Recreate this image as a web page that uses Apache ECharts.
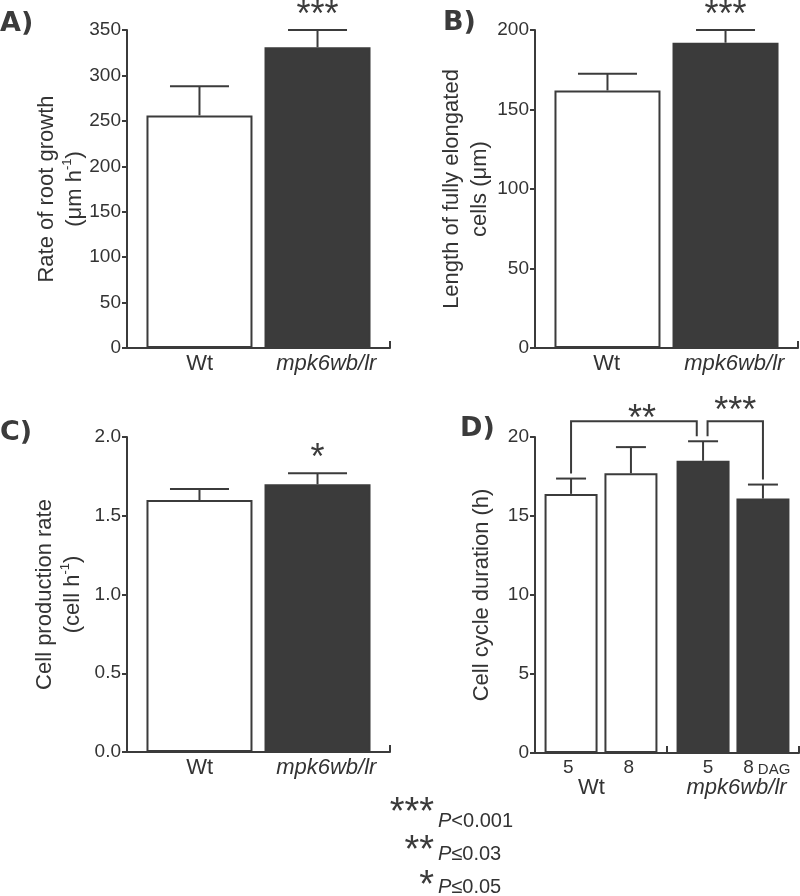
<!DOCTYPE html>
<html><head><meta charset="utf-8">
<script src="https://cdn.jsdelivr.net/npm/echarts@6/dist/echarts.min.js"></script>
<style>html,body{margin:0;padding:0;background:#fff}#c{width:800px;height:896px}</style>
</head><body><div id="c"></div>
<script>
// ---------------- data ----------------
const genotypes = ['Wt', 'mpk6wb/lr'];
// A) rate of root growth (µm h-1)
const rootGrowth = [256, 331];
const rootGrowthSE = [32, 19];
const rootGrowthSig = ['', '***'];
const rootGrowthTicks = [0, 350, 50];
// B) length of fully elongated cells (µm)
const cellLength = [162, 192];
const cellLengthSE = [10.5, 8];
const cellLengthSig = ['', '***'];
const cellLengthTicks = [0, 200, 50];
// C) cell production rate (cell h-1)
const prodRate = [1.60, 1.70];
const prodRateSE = [0.07, 0.07];
const prodRateSig = ['', '*'];
const prodRateTicks = [0, 2, 0.5];
// D) cell cycle duration (h), by days after germination
const dagLabels = ['5', '8'];
const cycleDAG5 = [16.4, 18.5];
const cycleDAG5SE = [0.97, 1.23];
const cycleDAG8 = [17.7, 16.1];
const cycleDAG8SE = [1.66, 0.89];
const cycleTicks = [0, 20, 5];
// brackets in D: [genotypeIndex, dagIndex] pairs
const bracketFrom = [[0, 0], [1, 0]];
const bracketTo = [[1, 0], [1, 1]];
const bracketLevel = [21, 21];
const bracketSig = ['**', '***'];
// significance key
const sigKeyStars = ['***', '**', '*'];
const sigKeyText = ['<0.001', '≤0.03', '≤0.05'];

// ---------------- style ----------------
const INK = '#3b3b3b';
const TXT = '#333333';
const FONT = 'Liberation Sans, Arial, Helvetica, sans-serif';
const BW = 106, BG = -1.127;           // panels A-C bar width / gap
const SHIFT = -(BW * (1 + BG)) / 2;    // px offset of each bar from band centre
const DBW = 53, DBG = 0.13;            // panel D
const DSHIFT = (DBW * (1 + DBG)) / 2;

const grids = [
  {left: 127, top: 30, width: 263, height: 318},
  {left: 535, top: 30, width: 263, height: 318},
  {left: 127, top: 437, width: 263, height: 315},
  {left: 535, top: 437, width: 264, height: 316}
].map(g => Object.assign({outerBoundsMode: 'none', containLabel: false}, g));

function yAxis(gi, ticks, name, gap, dec) {
  return {
    type: 'value', gridIndex: gi, min: ticks[0], max: ticks[1], interval: ticks[2],
    axisLine: {show: true, lineStyle: {color: INK, width: 2}},
    axisTick: {show: true, inside: false, length: 5, lineStyle: {color: INK, width: 2}},
    splitLine: {show: false},
    axisLabel: {color: TXT, fontSize: 19, fontFamily: FONT, margin: 6,
      formatter: v => dec ? v.toFixed(1) : String(v)},
    name: name, nameLocation: 'middle', nameGap: gap, nameRotate: 90, nameMoveOverlap: false,
    nameTextStyle: {color: TXT, fontSize: 22, fontFamily: FONT, lineHeight: 28,
      rich: {sup: {fontSize: 13, verticalAlign: 'top', lineHeight: 14, color: TXT, fontFamily: FONT}}}
  };
}
function xAxisAB(gi, wtPad) {
  return {
    type: 'category', gridIndex: gi, data: genotypes,
    axisLine: {show: true, lineStyle: {color: INK, width: 2}},
    axisTick: {show: true, inside: true, length: 7, interval: (i) => i === 0, lineStyle: {color: INK, width: 2}},
    axisLabel: {color: TXT, fontSize: 22, fontFamily: FONT, margin: 5, interval: 0,
      formatter: (v, i) => i === 0 ? '{w|' + v + '}' : '{m|' + v + '}',
      rich: {w: {fontSize: 22, padding: [0, 0, 0, wtPad]}, m: {fontSize: 22, fontStyle: 'italic', padding: [0, 0, 0, 4]}}}
  };
}
function barPair(gi, vals) {
  return [
    {type: 'bar', xAxisIndex: gi, yAxisIndex: gi, barWidth: BW, barGap: (BG * 100) + '%',
     data: vals.map((v, i) => i === 0 ? v : '-'),
     itemStyle: {color: '#ffffff', borderColor: INK, borderWidth: 2}},
    {type: 'bar', xAxisIndex: gi, yAxisIndex: gi, barWidth: BW, barGap: (BG * 100) + '%',
     data: vals.map((v, i) => i === 1 ? v : '-'),
     itemStyle: {color: INK, borderColor: INK, borderWidth: 2}}
  ];
}
function starText(x, y, s, size) {
  return {type: 'text', x: x, y: y,
    style: {text: s, fill: INK, fontSize: size, fontFamily: FONT, align: 'center', verticalAlign: 'middle'}};
}
function errSeries(gi, vals, ses, sigs, cap, shiftFn) {
  return {
    type: 'custom', xAxisIndex: gi, yAxisIndex: gi, clip: false, z: 5,
    data: vals.map((v, i) => [i, v, ses[i]]),
    encode: {x: 0, y: 1},
    renderItem: (params, api) => {
      const i = api.value(0), v = api.value(1), e = api.value(2);
      const base = api.coord([i, v]);
      const top = api.coord([i, v + e]);
      const x = base[0] + shiftFn(i);
      const ch = [
        {type: 'line', shape: {x1: x, y1: base[1], x2: x, y2: top[1]}, style: {stroke: INK, lineWidth: 2}},
        {type: 'line', shape: {x1: x - cap / 2, y1: top[1], x2: x + cap / 2, y2: top[1]}, style: {stroke: INK, lineWidth: 2}}
      ];
      if (sigs[i]) ch.push(starText(x, top[1] - 14, sigs[i], 36));
      return {type: 'group', children: ch};
    }
  };
}
const shiftAB = i => (i === 0 ? SHIFT : -SHIFT);

// ---------- panel D ----------
const dGroups = [cycleDAG5, cycleDAG8];
const dSE = [cycleDAG5SE, cycleDAG8SE];
function dBar(k) {
  return {type: 'bar', xAxisIndex: 3, yAxisIndex: 3, barWidth: DBW, barGap: (DBG * 100) + '%',
    name: dagLabels[k] + ' DAG',
    data: dGroups[k].map((v, i) => ({value: v,
      itemStyle: i === 0 ? {color: '#ffffff', borderColor: INK, borderWidth: 2}
                         : {color: INK, borderColor: INK, borderWidth: 2}}))};
}
function dErr(k) {
  return errSeries(3, dGroups[k], dSE[k], ['', ''], 30, () => (k === 0 ? -DSHIFT : DSHIFT));
}
const legNudge = 4.5;
const bracketSeries = {
  type: 'custom', xAxisIndex: 3, yAxisIndex: 3, clip: false, z: 6,
  data: bracketLevel.map((lv, b) => [b, lv]),
  encode: {x: 0, y: 1},
  renderItem: (params, api) => {
    const b = params.dataIndex;
    const lv = bracketLevel[b];
    const ends = [bracketFrom[b], bracketTo[b]];
    const pts = ends.map((e, side) => {
      const [g, k] = e;
      const val = dGroups[k][g] + dSE[k][g];
      const p = api.coord([g, val]);
      let x = p[0] + (k === 0 ? -DSHIFT : DSHIFT);
      // if this bar is also an end of another bracket, move this leg aside
      const shared = bracketFrom.concat(bracketTo).filter(q => q[0] === g && q[1] === k).length > 1;
      if (shared) x += side === 0 ? legNudge : -legNudge * 1.4;
      return [x, p[1] - 5];
    });
    const yl = api.coord([0, lv])[1];
    const ch = [{type: 'polyline', shape: {points: [[pts[0][0], pts[0][1]], [pts[0][0], yl], [pts[1][0], yl], [pts[1][0], pts[1][1]]]},
      style: {stroke: INK, lineWidth: 2, fill: null}}];
    const lift = bracketSig[b].length === 3 ? 9 : 1;
    ch.push(starText((pts[0][0] + pts[1][0]) / 2 + (b === 0 ? 8 : 0), yl - lift, bracketSig[b], 36));
    return {type: 'group', children: ch};
  }
};
const xAxisD = {
  type: 'category', gridIndex: 3, data: genotypes,
  axisLine: {show: true, lineStyle: {color: INK, width: 2}},
  axisTick: {show: true, inside: true, length: 7, interval: 0, lineStyle: {color: INK, width: 2}},
  axisLabel: {color: TXT, fontSize: 19, fontFamily: FONT, margin: 4.5, interval: 0,
    formatter: (v, i) => i === 0
      ? '{n|' + dagLabels[0] + '}{g1| }{n|' + dagLabels[1] + '}{e1| }\n{w|' + v + '}'
      : '{s1| }{n|' + dagLabels[0] + '}{g2| }{n|' + dagLabels[1] + '}{d|DAG}\n{m|' + v + '}',
    rich: {
      n: {fontSize: 19, lineHeight: 20},
      g1: {width: 50, lineHeight: 20}, e1: {width: 5, lineHeight: 20},
      s1: {width: 27, lineHeight: 20}, g2: {width: 30, lineHeight: 20},
      d: {fontSize: 15, lineHeight: 15, verticalAlign: 'bottom', padding: [0, 0, 0, 4]},
      w: {fontSize: 22, lineHeight: 20, padding: [0, 19, 0, 0]},
      m: {fontSize: 22, lineHeight: 20, fontStyle: 'italic', padding: [0, 0, 0, 7]}
    }}
};

// ---------- annotations ----------
const letters = [['A)', 0, 24], ['B)', 443, 23], ['C)', 0, 433], ['D)', 460, 429]];
const graphic = letters.map(l => ({type: 'text', x: l[1], y: l[2],
  style: {text: l[0], fill: INK, fontSize: 27, fontWeight: 'bold', fontFamily: 'DejaVu Sans', align: 'left', verticalAlign: 'middle'}}));
const keyRows = [[814, 821], [852, 854], [887, 887]];
sigKeyStars.forEach((s, i) => {
  graphic.push({type: 'text', x: 434, y: keyRows[i][0],
    style: {text: s, fill: INK, fontSize: 38, fontFamily: FONT, align: 'right', verticalAlign: 'middle'}});
  graphic.push({type: 'text', x: 438, y: keyRows[i][1],
    style: {text: '{p|P}' + sigKeyText[i], fill: TXT, fontSize: 20, fontFamily: FONT, align: 'left', verticalAlign: 'middle',
      rich: {p: {fontStyle: 'italic', fontSize: 20, fontFamily: FONT, fill: TXT}}}});
});

const option = {
  animation: false,
  backgroundColor: '#ffffff',
  grid: grids,
  xAxis: [xAxisAB(0, 14), xAxisAB(1, 12), xAxisAB(2, 14), xAxisD],
  yAxis: [
    yAxis(0, rootGrowthTicks, 'Rate of root growth\n(μm h{sup|-1})', 38, false),
    yAxis(1, cellLengthTicks, 'Length of fully elongated\ncells (μm)', 41, false),
    yAxis(2, prodRateTicks, 'Cell production rate\n(cell h{sup|-1})', 40, true),
    yAxis(3, cycleTicks, 'Cell cycle duration (h)', 39, false)
  ],
  series: [
    ...barPair(0, rootGrowth), errSeries(0, rootGrowth, rootGrowthSE, rootGrowthSig, 59, shiftAB),
    ...barPair(1, cellLength), errSeries(1, cellLength, cellLengthSE, cellLengthSig, 59, shiftAB),
    ...barPair(2, prodRate), errSeries(2, prodRate, prodRateSE, prodRateSig, 59, shiftAB),
    dBar(0), dBar(1), dErr(0), dErr(1), bracketSeries
  ],
  graphic: graphic
};
const chart = echarts.init(document.getElementById('c'), null, {renderer: 'canvas'});
chart.setOption(option);
</script></body></html>
